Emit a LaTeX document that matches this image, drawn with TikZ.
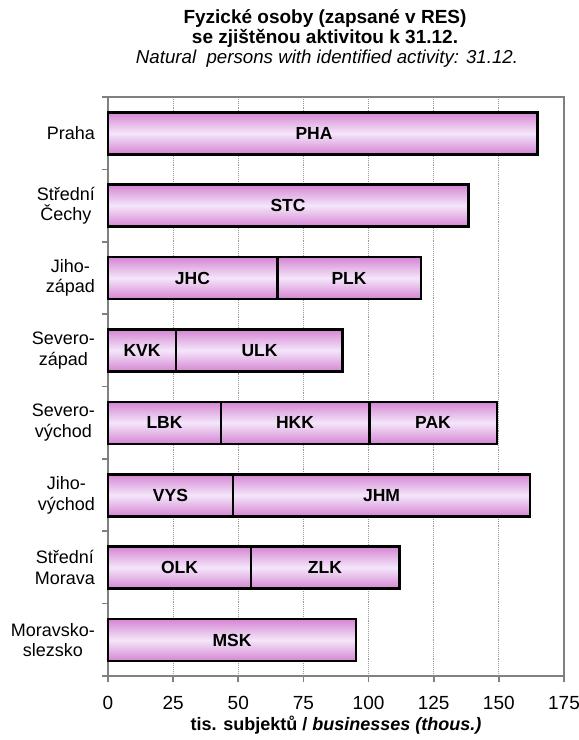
\documentclass[tikz,border=0pt]{standalone}
\usepackage{fontspec}
\setmainfont{Liberation Sans}
\definecolor{barDark}{HTML}{D585D3}
\definecolor{barLight}{HTML}{F4E6FA}
\definecolor{gridgray}{HTML}{9A9A9A}
\definecolor{axisgray}{HTML}{808080}
\newcommand\barseg[4]{%
  \draw[barbox] ({108+2.6057*#1},{#3-21}) rectangle ({108+2.6057*#2},{#3+21});
}
\begin{document}
\begin{tikzpicture}[x=1pt,y=-1pt,
  barbox/.style={draw=black,line width=2.6pt,top color=barDark,bottom color=barDark,middle color=barLight},
  barlabel/.style={font=\fontsize{17.5}{19}\selectfont\bfseries,inner sep=0pt},
  catlabel/.style={font=\fontsize{18}{20.5}\selectfont,align=center,anchor=east,inner sep=0pt},
  ticklabel/.style={font=\fontsize{19}{21}\selectfont,inner sep=0pt},
  gridline/.style={gridgray,line width=0.9pt,densely dotted},
  frameline/.style={axisgray,line width=1.6pt}]
\useasboundingbox (0,0) rectangle (579,740);
\fill[white] (0,0) rectangle (579,740);
% titles
\node[font=\fontsize{19}{21}\selectfont\bfseries,inner sep=0pt] (t1) at (325,18) {Fyzické osoby (zapsané v RES)};
\node[font=\fontsize{19}{21}\selectfont\bfseries,inner sep=0pt] (t2) at (325,38.5) {se zjištěnou aktivitou k 31.12.};
\node[font=\fontsize{18.7}{21}\selectfont\itshape,inner sep=0pt] (t3) at (327,58.5) {Natural\ \ persons with identified activity: 31.12.};
% grid
\foreach \v in {1,...,6} {
  \draw[gridline] ({108+65.14*\v},97) -- ({108+65.14*\v},676);
}
% frame
\draw[frameline] (108,97) -- (564,97) -- (564,676);
\draw[frameline] (108,97) -- (108,676) -- (564,676);
\foreach \k in {0,...,8} {
  \draw[frameline] (102,{97+72.375*\k}) -- (108,{97+72.375*\k});
}
\foreach \v/\t in {0/0,1/25,2/50,3/75,4/100,5/125,6/150,7/175} {
  \draw[frameline] ({108+65.14*\v},676) -- ({108+65.14*\v},682);
  \node[ticklabel] (tick\v) at ({108+65.14*\v},703) {\t};
}
\node[font=\fontsize{18}{20}\selectfont\bfseries,inner sep=0pt] (xtitle) at (336,725) {tis. subjektů / \textit{businesses (thous.)}};
% categories
\node[catlabel] (c1) at (95,133.2) {Praha};
\node[catlabel] (c2) at (95,205.6) {Střední\\Čechy};
\node[catlabel] (c3) at (95,278) {Jiho-\\západ};
\node[catlabel] (c4) at (95,350.4) {Severo-\\západ};
\node[catlabel] (c5) at (95,422.8) {Severo-\\východ};
\node[catlabel] (c6) at (95,495.2) {Jiho-\\východ};
\node[catlabel] (c7) at (95,567.6) {Střední\\Morava};
\node[catlabel] (c8) at (95,640) {Moravsko-\\slezsko};
% bars
\barseg{0}{164.9}{133.2}{}
\barseg{0}{138.4}{205.6}{}
\barseg{0}{65.0}{278}{}
\barseg{65.0}{120.1}{278}{}
\barseg{0}{26.1}{350.4}{}
\barseg{26.1}{90.1}{350.4}{}
\barseg{0}{43.4}{422.8}{}
\barseg{43.4}{100.4}{422.8}{}
\barseg{100.4}{149.3}{422.8}{}
\barseg{0}{47.9}{495.2}{}
\barseg{47.9}{162.0}{495.2}{}
\barseg{0}{54.9}{567.6}{}
\barseg{54.9}{111.9}{567.6}{}
\barseg{0}{95.2}{640}{}
% bar labels
\node[barlabel] (pha) at (314,133.2) {PHA};
\node[barlabel] (stc) at (288,205.6) {STC};
\node[barlabel] (jhc) at (192.5,278) {JHC};
\node[barlabel] (plk) at (349,278) {PLK};
\node[barlabel] (kvk) at (142,350.4) {KVK};
\node[barlabel] (ulk) at (259.5,350.4) {ULK};
\node[barlabel] (lbk) at (164.5,422.8) {LBK};
\node[barlabel] (hkk) at (295,422.8) {HKK};
\node[barlabel] (pak) at (433,422.8) {PAK};
\node[barlabel] (vys) at (170.5,495.2) {VYS};
\node[barlabel] (jhm) at (381.5,495.2) {JHM};
\node[barlabel] (olk) at (179.5,567.6) {OLK};
\node[barlabel] (zlk) at (325,567.6) {ZLK};
\node[barlabel] (msk) at (232,640) {MSK};
\end{tikzpicture}
\end{document}
